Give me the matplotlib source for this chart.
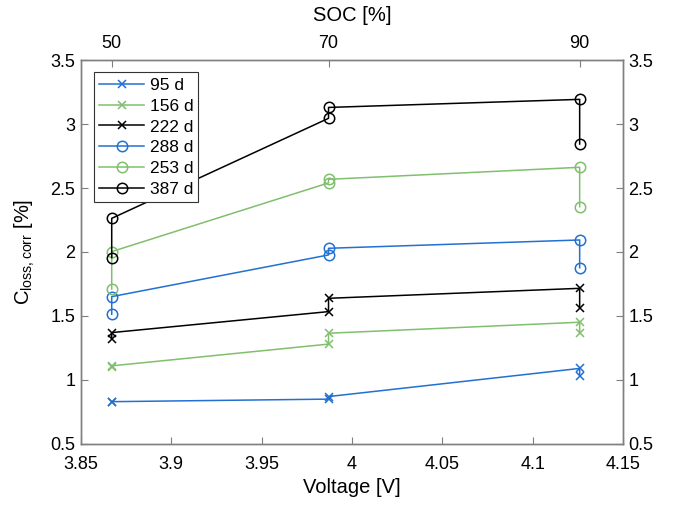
import matplotlib
matplotlib.use("Agg")
import matplotlib.pyplot as plt

plt.rcParams['font.family'] = ['Liberation Sans', 'DejaVu Sans']
plt.rcParams['mathtext.fontset'] = 'custom'
plt.rcParams['mathtext.rm'] = 'Liberation Sans'
plt.rcParams['mathtext.it'] = 'Liberation Sans:italic'

# Data
voltage = [3.867, 3.987, 4.126]
soc_labels = ['50', '70', '90']
labels = ['95 d', '156 d', '222 d', '288 d', '253 d', '387 d']
# (first value, second value) at each voltage, in drawing order
s95 = [(0.83, 0.83), (0.85, 0.87), (1.09, 1.03)]
s156 = [(1.10, 1.11), (1.28, 1.365), (1.451, 1.37)]
s222 = [(1.32, 1.37), (1.534, 1.638), (1.716, 1.56)]
s288 = [(1.513, 1.651), (1.977, 2.029), (2.094, 1.877)]
s253 = [(1.711, 2.003), (2.54, 2.568), (2.662, 2.354)]
s387 = [(1.956, 2.263), (3.045, 3.13), (3.193, 2.844)]
series = [s95, s156, s222, s288, s253, s387]

blue = '#2270d2'
green = '#80bf6e'
black = '#000000'
colors = [blue, green, black, blue, green, black]
markers = ['x', 'x', 'x', 'o', 'o', 'o']

fig = plt.figure(figsize=(6.75, 5.05), dpi=100)
ax = fig.add_axes([0.12, 0.121, 0.803, 0.76])

for s, lab, c, m in zip(series, labels, colors, markers):
    xs, ys = [], []
    for v, pair in zip(voltage, s):
        xs += [v, v]
        ys += list(pair)
    if m == 'o':
        ax.plot(xs, ys, color=c, marker=m, markersize=7.5, markerfacecolor='none',
                markeredgewidth=1.1, linewidth=1.1, label=lab)
    else:
        ax.plot(xs, ys, color=c, marker=m, markersize=6, markeredgewidth=1.1,
                linewidth=1.1, label=lab)

axis_gray = '#7f7f7f'
ax.set_xlim(3.85, 4.15)
ax.set_ylim(0.5, 3.5)
ax.set_xticks([3.85, 3.9, 3.95, 4.0, 4.05, 4.1, 4.15])
ax.set_xticklabels(['3.85', '3.9', '3.95', '4', '4.05', '4.1', '4.15'])
ax.set_yticks([0.5, 1, 1.5, 2, 2.5, 3, 3.5])
ax.set_yticklabels(['0.5', '1', '1.5', '2', '2.5', '3', '3.5'])
ax.tick_params(axis='both', direction='in', length=5, width=0.8, color=axis_gray,
               labelsize=13, right=True, labelright=True)
ax.tick_params(axis='x', pad=9)
ax.tick_params(axis='y', pad=4)
for sp in ax.spines.values():
    sp.set_color(axis_gray)
    sp.set_linewidth(1.0)
ax.set_xlabel('Voltage [V]', fontsize=14.5, labelpad=3)
ax.set_ylabel(r'C$_{\mathrm{loss,corr}}$ [%]', fontsize=14.5, labelpad=10)

ax2 = ax.twiny()
ax2.set_xlim(ax.get_xlim())
ax2.set_xticks(voltage)
ax2.set_xticklabels(soc_labels)
ax2.tick_params(direction='in', length=5, width=0.8, color=axis_gray, labelsize=13, pad=6)
for sp in ax2.spines.values():
    sp.set_color(axis_gray)
    sp.set_linewidth(1.0)
ax2.set_xlabel('SOC [%]', fontsize=14.5, labelpad=10)

leg = ax.legend(loc='upper left', bbox_to_anchor=(0.024, 0.968), fontsize=12.5,
                fancybox=False, edgecolor='#333333', framealpha=1,
                handlelength=2.6, handletextpad=0.3, labelspacing=0.33,
                borderpad=0.3, borderaxespad=0)
leg.get_frame().set_linewidth(0.8)

fig.savefig('out.png', dpi=100)
